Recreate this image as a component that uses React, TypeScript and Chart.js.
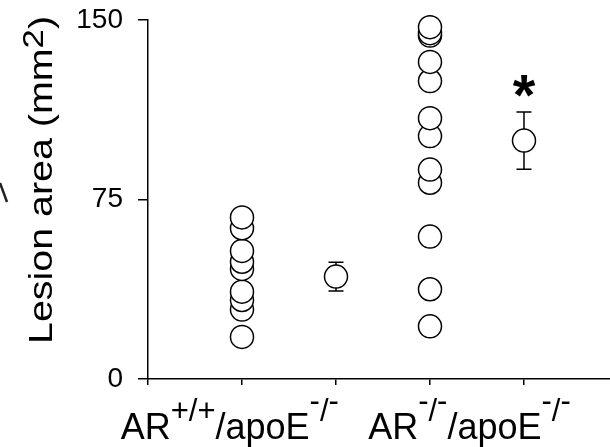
import React, { useEffect, useRef } from 'react';
import { Chart, registerables } from 'chart.js';

Chart.register(...registerables);

// ---- data ----
const yTicks = [0, 75, 150];
const xTicks = [0, 1, 2, 3, 4];
const groupX = [1, 3];
const meanX = [2, 4];
const wildTypeValues = [17.6, 29, 33, 36.5, 46, 49, 53.5, 63, 67.5];
const knockoutValues = [22, 37.5, 59.5, 82, 87.5, 101.5, 109, 124.5, 132.5, 143.5, 144.5, 147];
const groupMeans = [42.8, 99.6];
const groupErrors = [6, 12];
const significance = ['', '*'];
const groupLabels = [
  [{ t: 'AR' }, { t: '+/+', sup: true }, { t: '/apoE' }, { t: '-/-', sup: true }],
  [{ t: 'AR' }, { t: '-/-', sup: true }, { t: '/apoE' }, { t: '-/-', sup: true }],
];
const yTitleParts = [{ t: 'Lesion area (mm' }, { t: '2', sup: true }, { t: ')' }];

// ---- layout / style constants ----
const FONT = 'Arial, "Liberation Sans", Helvetica, sans-serif';
const labelAnchors = [0.87, 3.42];

type Part = { t: string; sup?: boolean };

function measureRich(ctx: CanvasRenderingContext2D, parts: Part[], mainSize: number, supSize: number) {
  let total = 0;
  for (const p of parts) {
    ctx.font = `${p.sup ? supSize : mainSize}px ${FONT}`;
    total += ctx.measureText(p.t).width;
  }
  return total;
}

function drawRich(
  ctx: CanvasRenderingContext2D,
  parts: Part[],
  cx: number,
  baseline: number,
  mainSize: number,
  supSize: number,
  supRaise: number,
  hyphenRaise: number
) {
  const main = `${mainSize}px ${FONT}`;
  const sup = `${supSize}px ${FONT}`;
  const total = measureRich(ctx, parts, mainSize, supSize);
  let x = cx - total / 2;
  ctx.textAlign = 'left';
  ctx.textBaseline = 'alphabetic';
  for (const p of parts) {
    ctx.font = p.sup ? sup : main;
    if (p.sup) {
      for (const ch of p.t) {
        const extra = ch === '-' ? hyphenRaise : 0;
        ctx.fillText(ch, x, baseline - supRaise - extra);
        x += ctx.measureText(ch).width;
      }
    } else {
      ctx.fillText(p.t, x, baseline);
      x += ctx.measureText(p.t).width;
    }
  }
}

const decorPlugin = {
  id: 'decor',
  beforeDatasetsDraw(chart: any) {
    const ctx: CanvasRenderingContext2D = chart.ctx;
    const xs = chart.scales.x;
    const ys = chart.scales.y;
    ctx.save();
    ctx.strokeStyle = '#000';
    ctx.lineWidth = 1.5;
    groupMeans.forEach((m, i) => {
      const px = xs.getPixelForValue(meanX[i]);
      const top = ys.getPixelForValue(m + groupErrors[i]);
      const bot = ys.getPixelForValue(m - groupErrors[i]);
      ctx.beginPath();
      ctx.moveTo(px, top);
      ctx.lineTo(px, bot);
      ctx.moveTo(px - 7.5, top);
      ctx.lineTo(px + 7.5, top);
      ctx.moveTo(px - 7.5, bot);
      ctx.lineTo(px + 7.5, bot);
      ctx.stroke();
    });
    ctx.restore();
  },
  afterDraw(chart: any) {
    const ctx: CanvasRenderingContext2D = chart.ctx;
    const xs = chart.scales.x;
    const ys = chart.scales.y;
    ctx.save();
    ctx.fillStyle = '#000';
    // significance markers
    significance.forEach((s, i) => {
      if (!s) return;
      const px = xs.getPixelForValue(meanX[i]);
      const top = ys.getPixelForValue(groupMeans[i] + groupErrors[i]);
      ctx.font = `bold 58px ${FONT}`;
      const m = ctx.measureText(s);
      ctx.textAlign = 'center';
      ctx.textBaseline = 'alphabetic';
      const centerY = top - 26;
      ctx.fillText(s, px, centerY + (m.actualBoundingBoxAscent - m.actualBoundingBoxDescent) / 2);
    });
    // x group labels
    groupLabels.forEach((parts, i) => {
      drawRich(ctx, parts, xs.getPixelForValue(labelAnchors[i]), 439, 36, 31, 18, 10);
    });
    // y title (stretched along its length to match the original figure)
    const tMain = 34;
    const tSup = 30;
    const len = measureRich(ctx, yTitleParts, tMain, tSup);
    ctx.translate(52, 180);
    ctx.rotate(-Math.PI / 2);
    ctx.scale(328 / len, 1);
    drawRich(ctx, yTitleParts, 0, 0, tMain, tSup, 9, 0);
    ctx.restore();
    // small edge artifact
    ctx.save();
    ctx.strokeStyle = '#222';
    ctx.lineWidth = 2.5;
    ctx.beginPath();
    ctx.moveTo(0, 183);
    ctx.lineTo(7, 202);
    ctx.stroke();
    ctx.restore();
  },
};

const pointStyle = {
  pointRadius: 11.5,
  pointHoverRadius: 11.5,
  pointBackgroundColor: '#fff',
  pointBorderColor: '#000',
  pointBorderWidth: 1.5,
  showLine: false,
};

export default function App() {
  const ref = useRef<HTMLCanvasElement>(null);
  useEffect(() => {
    document.body.style.margin = '0';
    const chart = new Chart(ref.current as HTMLCanvasElement, {
      type: 'scatter',
      data: {
        datasets: [
          { data: wildTypeValues.map((v) => ({ x: groupX[0], y: v })), ...pointStyle },
          { data: knockoutValues.map((v) => ({ x: groupX[1], y: v })), ...pointStyle },
          { data: groupMeans.map((v, i) => ({ x: meanX[i], y: v })), ...pointStyle },
        ],
      },
      options: {
        responsive: false,
        animation: false,
        events: [],
        clip: false as any,
        layout: { autoPadding: false, padding: { top: 20, left: 0, right: 0, bottom: 0 } },
        plugins: { legend: { display: false }, tooltip: { enabled: false } },
        scales: {
          x: {
            type: 'linear',
            min: 0,
            max: 4.915,
            afterBuildTicks: (s: any) => {
              s.ticks = xTicks.map((v) => ({ value: v }));
            },
            afterFit: (s: any) => {
              s.height = 68;
              s.paddingLeft = 0;
              s.paddingRight = 0;
            },
            ticks: { display: false },
            grid: { drawOnChartArea: false, tickLength: 6, color: '#000', lineWidth: 1.5 },
            border: { display: true, color: '#000', width: 1.5 },
          },
          y: {
            type: 'linear',
            min: 0,
            max: 150,
            afterBuildTicks: (s: any) => {
              s.ticks = yTicks.map((v) => ({ value: v }));
            },
            afterFit: (s: any) => {
              s.width = 148;
              s.paddingTop = 0;
              s.paddingBottom = 0;
            },
            ticks: { color: '#000', font: { family: FONT, size: 28 }, padding: 15 },
            grid: { drawOnChartArea: false, tickLength: 10, color: '#000', lineWidth: 1.5 },
            border: { display: true, color: '#000', width: 1.5 },
          },
        },
      },
      plugins: [decorPlugin],
    });
    return () => chart.destroy();
  }, []);
  return (
    <div style={{ position: 'absolute', left: 0, top: 0, width: 610, height: 447 }}>
      <canvas ref={ref} width={610} height={447} />
    </div>
  );
}
